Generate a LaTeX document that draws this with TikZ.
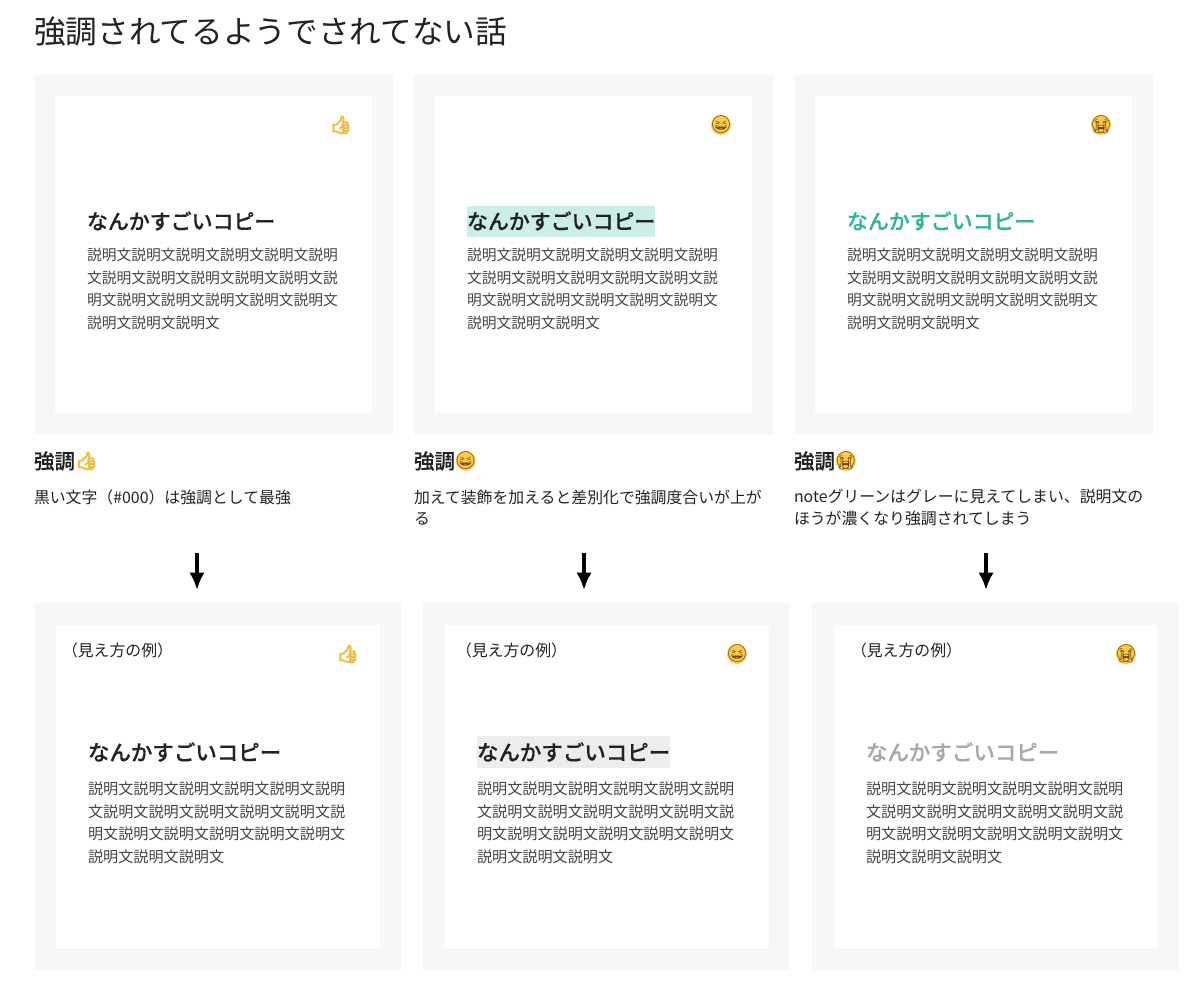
\documentclass[tikz,border=0pt]{standalone}
\usepackage{fontspec}
\usetikzlibrary{arrows.meta,positioning}
\setmainfont{Noto Sans CJK JP}[BoldFont=Noto Sans CJK JP Medium,BoldFeatures={FakeBold=0.35}]
\newfontfamily\emojifont{Noto Emoji}
\newfontfamily\emojithick{Noto Emoji}[FakeBold=7]
\definecolor{panelgray}{HTML}{F7F7F7}
\definecolor{inktext}{HTML}{222222}
\definecolor{bodytext}{HTML}{444444}
\definecolor{notegreen}{HTML}{2CB696}
\definecolor{palegray}{HTML}{A9A9A2}
\definecolor{markgreen}{HTML}{CBEFE8}
\definecolor{markgray}{HTML}{EDEDEB}
\definecolor{emojiyellow}{HTML}{FBCB4E}
\definecolor{emojigold}{HTML}{F2BC3F}
\definecolor{emojibrown}{HTML}{6B4412}
\newcommand{\emthumb}{\char"1F44D}
\newcommand{\emlaugh}{\char"1F606}
\newcommand{\emcry}{\char"1F62D}
\newcommand{\bodylines}{説明文説明文説明文説明文説明文説明\\文説明文説明文説明文説明文説明文説\\明文説明文説明文説明文説明文説明文\\説明文説明文説明文}
\begin{document}
\begin{tikzpicture}[x=0.75pt,y=-0.75pt,
	every node/.style={inner sep=0pt,outer sep=0pt},
	outerbox/.style={anchor=north west,fill=panelgray},
	innerbox/.style={anchor=north west,fill=white},
	copytext/.style={anchor=west,minimum height=23.25pt,font=\fontsize{15.7}{20}\selectfont\bfseries},
	copylow/.style={anchor=west,minimum height=24pt,font=\fontsize{16.1}{20}\selectfont\bfseries},
	plainink/.style={text=inktext},
	greenmark/.style={text=inktext,fill=markgreen},
	graymark/.style={text=inktext,fill=markgray},
	greenink/.style={text=notegreen},
	paleink/.style={text=palegray},
	bodyblock/.style={anchor=west,align=left,text=bodytext,font=\fontsize{11.07}{16.8}\selectfont},
	bodylow/.style={anchor=west,align=left,text=bodytext,font=\fontsize{11.35}{16.95}\selectfont},
	headtext/.style={anchor=west,text=inktext,font=\fontsize{15.4}{20}\selectfont\bfseries},
	notetext/.style={anchor=west,align=left,text=inktext,font=\fontsize{11.9}{15.8}\selectfont},
	seetext/.style={anchor=west,text=inktext,font=\fontsize{11.9}{14}\selectfont},
	emothumb/.style={text=emojigold,font=\emojithick\fontsize{13}{14}\selectfont},
	emoface/.style={circle,inner sep=-2.2pt,fill=emojiyellow,text=emojibrown,font=\emojifont\fontsize{13}{13}\selectfont},
	downarrow/.style={-{Latex[width=11.5pt,length=13pt]},line width=2.6pt,black}]
\useasboundingbox (0,0) rectangle (1200,990);
\node [anchor=west,text=inktext,font=\fontsize{23.75}{28}\selectfont] (title) at (34,32) {強調されてるようでされてない話};
% upper row
\foreach \n/\x/\emsty/\emo/\copysty in {A/34/emothumb/\emthumb/plainink,B/414/emoface/\emlaugh/greenmark,C/794/emoface/\emcry/greenink}
{
	\node [outerbox,minimum size=269.25pt] (outer\n) at (\x,75) {};
	\node [innerbox,minimum size=237.75pt] (inner\n) at (\x + 21,96) {};
	\node [\emsty] (emoji\n) at (\x + 307,125) {\emo};
	\node [copytext,\copysty] (copy\n) at (\x + 53,221) {なんかすごいコピー};
	\node [bodyblock] (body\n) at (\x + 53,289) {\bodylines};
	\node [headtext] (head\n) at (\x,461) {強調};
	\node [\emsty,right=0.5pt of head\n] (heademoji\n) {\emo};
}
\node [notetext] (noteA) at (34,497) {黒い文字（\#000）は強調として最強};
\node [notetext] (noteB) at (414,507.5) {加えて装飾を加えると差別化で強調度合いが上が\\る};
\node [notetext] (noteC) at (794,507.5) {noteグリーンはグレーに見えてしまい、説明文の\\ほうが濃くなり強調されてしまう};
% lower row
\foreach \n/\x/\seex/\emsty/\emo/\copysty in {A/34/62/emothumb/\emthumb/plainink,B/423/456/emoface/\emlaugh/graymark,C/812/851/emoface/\emcry/paleink}
{
	\node [outerbox,minimum size=275.25pt] (lowouter\n) at (\x,603) {};
	\node [innerbox,minimum width=243pt,minimum height=242.25pt] (lowinner\n) at (\x + 22,625) {};
	\node [seetext] (see\n) at (\seex,650) {（見え方の例）};
	\node [\emsty] (lowemoji\n) at (\x + 314,654) {\emo};
	\node [copylow,\copysty] (lowcopy\n) at (\x + 54,752) {なんかすごいコピー};
	\node [bodylow] (lowbody\n) at (\x + 54,822.7) {\bodylines};
}
% arrows
\foreach \n/\x in {A/197,B/584,C/986}
{
	\coordinate (from\n) at (\x,553);
	\coordinate (to\n) at (\x,590);
	\draw [downarrow] (from\n) -- (to\n);
}
\end{tikzpicture}
\end{document}
